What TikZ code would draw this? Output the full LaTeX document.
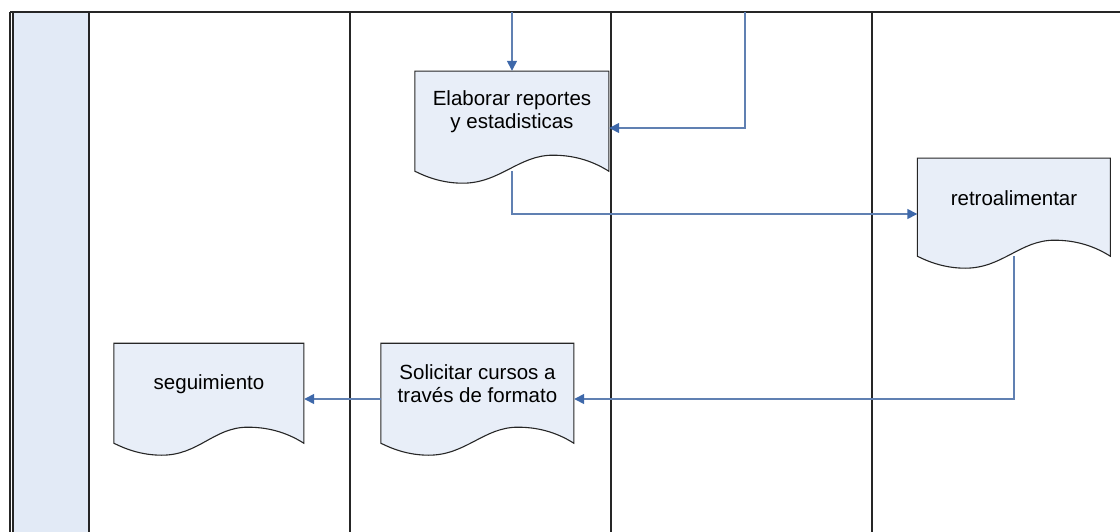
\documentclass[tikz,border=0pt]{standalone}
\usepackage{fontspec}
\setmainfont{Liberation Sans}
\usetikzlibrary{arrows.meta,calc}
\pgfdeclarelayer{lanes}
\pgfdeclarelayer{shapes}
\pgfsetlayers{lanes,shapes,main}
\definecolor{docfill}{RGB}{232,238,248}
\definecolor{stripfill}{RGB}{226,234,246}
\definecolor{conn}{RGB}{96,128,178}
\definecolor{tipc}{RGB}{62,104,170}
\tikzset{
  docbox/.style={draw=none,fill=none,inner sep=0pt},
  doctext/.style={font=\fontsize{20.5}{23}\selectfont,align=center,text=black,yshift=9pt},
  docline/.style={draw=black!85,line width=1.1pt,fill=docfill},
  laneline/.style={draw=black!85,line width=1.4pt},
  flow/.style={draw=conn,line width=1.4pt,-{Triangle[length=10pt,width=10pt,color=tipc]}},
}
\newcommand{\docoutline}[3]{% name, width, height
  \begin{scope}[shift={(#1.south west)}]
    \path[docline] (0,0) -- (0,-#3) -- (#2,-#3) -- (#2,0)
      .. controls ({#2-19},-12) and ({#2-38},-16) .. ({#2-56},-16)
      .. controls ({#2-90},-16) and (85,12) .. (48,12)
      .. controls (28,12) and (12,6) .. (0,0) -- cycle;
  \end{scope}}
\begin{document}
\begin{tikzpicture}[x=1pt,y=-1pt]
\useasboundingbox (0,0) rectangle (1120,532);
% lanes
\begin{pgfonlayer}{lanes}
  \fill[stripfill] (13,12) rectangle (89,532);
  \draw[laneline] (10,12) -- (1120,12);
  \draw[laneline] (10,12) -- (10,532);
  \draw[laneline] (13,12) -- (13,532);
  \draw[laneline] (89,12) -- (89,532);
  \draw[laneline] (350,12) -- (350,532);
  \draw[laneline] (611,12) -- (611,532);
  \draw[laneline] (872,12) -- (872,532);
\end{pgfonlayer}
% nodes
\node[docbox,minimum width=194pt,minimum height=100pt,
  label={[name=elabt,doctext]center:Elaborar reportes\\y estadisticas}] (elab) at (512,121) {};
\node[docbox,minimum width=193pt,minimum height=98pt,
  label={[name=retrot,doctext]center:retroalimentar}] (retro) at (1014,207) {};
\node[docbox,minimum width=190pt,minimum height=100pt,
  label={[name=seguit,doctext]center:seguimiento}] (segui) at (209,393) {};
\node[docbox,minimum width=193pt,minimum height=100pt,
  label={[name=solict,doctext]center:Solicitar cursos a\\través de formato}] (solic) at (477.5,393) {};
\begin{pgfonlayer}{shapes}
  \docoutline{elab}{194}{100}
  \docoutline{retro}{193}{98}
  \docoutline{segui}{190}{100}
  \docoutline{solic}{193}{100}
\end{pgfonlayer}
% connectors
\coordinate (t1) at (512,12);
\coordinate (t2) at (745,12);
\draw[flow] (t1) -- (elab.north);
\draw[flow] (t2) |- ($(elab.east)+(0,7)$);
\draw[flow] (elab.south) |- ($(retro.west)+(0,7)$);
\draw[flow] (retro.south) |- ($(solic.east)+(0,6)$);
\draw[flow] ($(solic.west)+(0,6)$) -- ($(segui.east)+(0,6)$);
\end{tikzpicture}
\end{document}
